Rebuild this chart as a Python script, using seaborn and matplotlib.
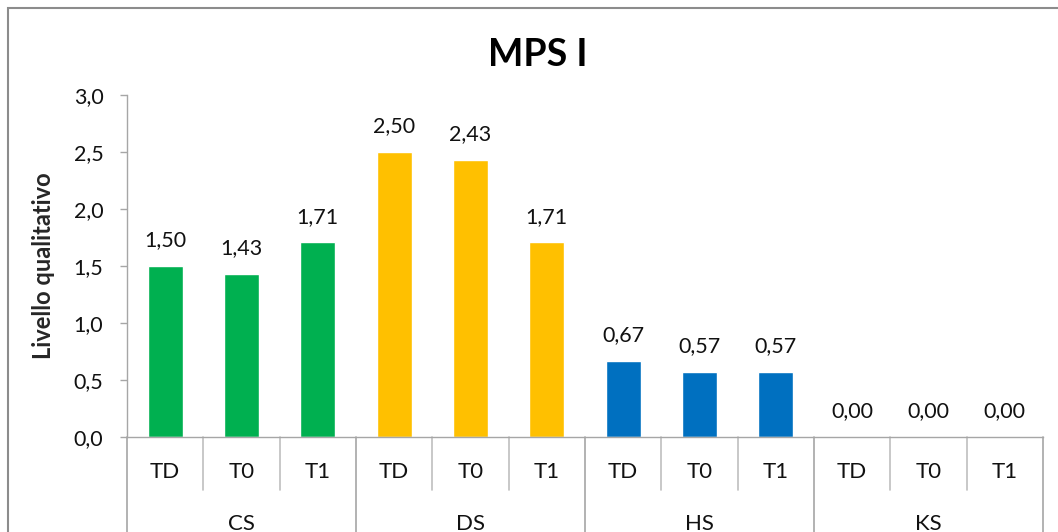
import matplotlib
matplotlib.use("Agg")
import matplotlib.pyplot as plt
import matplotlib.transforms as mtransforms
from matplotlib.patches import Rectangle
from matplotlib.ticker import FuncFormatter
import seaborn as sns
import pandas as pd

# Data
groups = ["CS", "DS", "HS", "KS"]
times = ["TD", "T0", "T1"]
values_cs = [1.50, 1.43, 1.71]
values_ds = [2.50, 2.43, 1.71]
values_hs = [0.67, 0.57, 0.57]
values_ks = [0.00, 0.00, 0.00]
group_colors = ["#00B050", "#FFC000", "#0070C0", "#A5A5A5"]
title = "MPS I"
y_label = "Livello qualitativo"

rows = []
for g, vals in zip(groups, [values_cs, values_ds, values_hs, values_ks]):
    for t, v in zip(times, vals):
        rows.append({"group": g, "time": t, "key": f"{g}-{t}", "value": v})
df = pd.DataFrame(rows)

sns.set_theme(style="white")
plt.rcParams["font.family"] = ["Lato", "DejaVu Sans"]

W, H = 1058, 532
fig = plt.figure(figsize=(W / 100, H / 100), dpi=100)
ax = fig.add_axes([127 / W, 1 - 437 / H, (1043 - 127) / W, (437 - 95) / H])

sns.barplot(data=df, x="key", y="value", hue="group", palette=group_colors,
            dodge=False, width=0.46, legend=False, ax=ax, saturation=1)

ax.set_ylim(0, 3.0)
ax.set_xlim(-0.5, len(df) - 0.5)
ax.set_yticks([0, 0.5, 1.0, 1.5, 2.0, 2.5, 3.0])
ax.yaxis.set_major_formatter(FuncFormatter(lambda v, p: f"{v:.1f}".replace(".", ",")))
ax.tick_params(axis="y", which="major", left=True, length=5, width=1,
               color="#A6A6A6", labelsize=15.5, pad=12, direction="out",
               labelcolor="#111111")
ax.set_xticks([])
ax.set_xlabel("")
ax.set_ylabel(y_label, fontsize=17, fontweight="bold")
ax.yaxis.set_label_coords(-72 / (1043 - 127), 0.5)

for side in ["top", "right"]:
    ax.spines[side].set_visible(False)
for side in ["left", "bottom"]:
    ax.spines[side].set_color("#A6A6A6")
    ax.spines[side].set_linewidth(1)

# Value labels above bars
for i, v in enumerate(df["value"]):
    ax.annotate(f"{v:.2f}".replace(".", ","), (i, v), xytext=(0, 14),
                textcoords="offset points", ha="center", va="baseline",
                fontsize=15.5, color="#111111")

# Two-level category axis drawn below the plot
trans = mtransforms.blended_transform_factory(ax.transData, ax.transAxes)
px = 1 / (437 - 95)  # one pixel in axes-y units
n = len(df)
for i, t in enumerate(df["time"]):
    ax.text(i, -35 * px, t, transform=trans, ha="center", va="center",
            fontsize=16, color="#111111", clip_on=False)
for k in range(1, n):
    if k % len(times) != 0:
        ax.plot([k - 0.5, k - 0.5], [0, -53 * px], transform=trans,
                color="#BFBFBF", lw=1.2, clip_on=False)
for k in range(0, n + 1, len(times)):
    ax.plot([k - 0.5, k - 0.5], [0, -110 * px], transform=trans,
            color="#A6A6A6", lw=1.2, clip_on=False)
for gi, g in enumerate(groups):
    ax.text(gi * len(times) + (len(times) - 1) / 2, -87 * px, g, transform=trans,
            ha="center", va="center", fontsize=16, color="#111111", clip_on=False)

fig.text(538 / W, 1 - 55 / H, title, ha="center", va="center",
         fontsize=27, fontweight="bold", color="#000000")

# Chart area frame
fig.patches.append(Rectangle((8 / W, -0.05), 1.1, 1 - 8 / H + 0.05,
                             transform=fig.transFigure, fill=False,
                             edgecolor="#8C8C8C", linewidth=1.5))

fig.savefig("out.png", dpi=100)
